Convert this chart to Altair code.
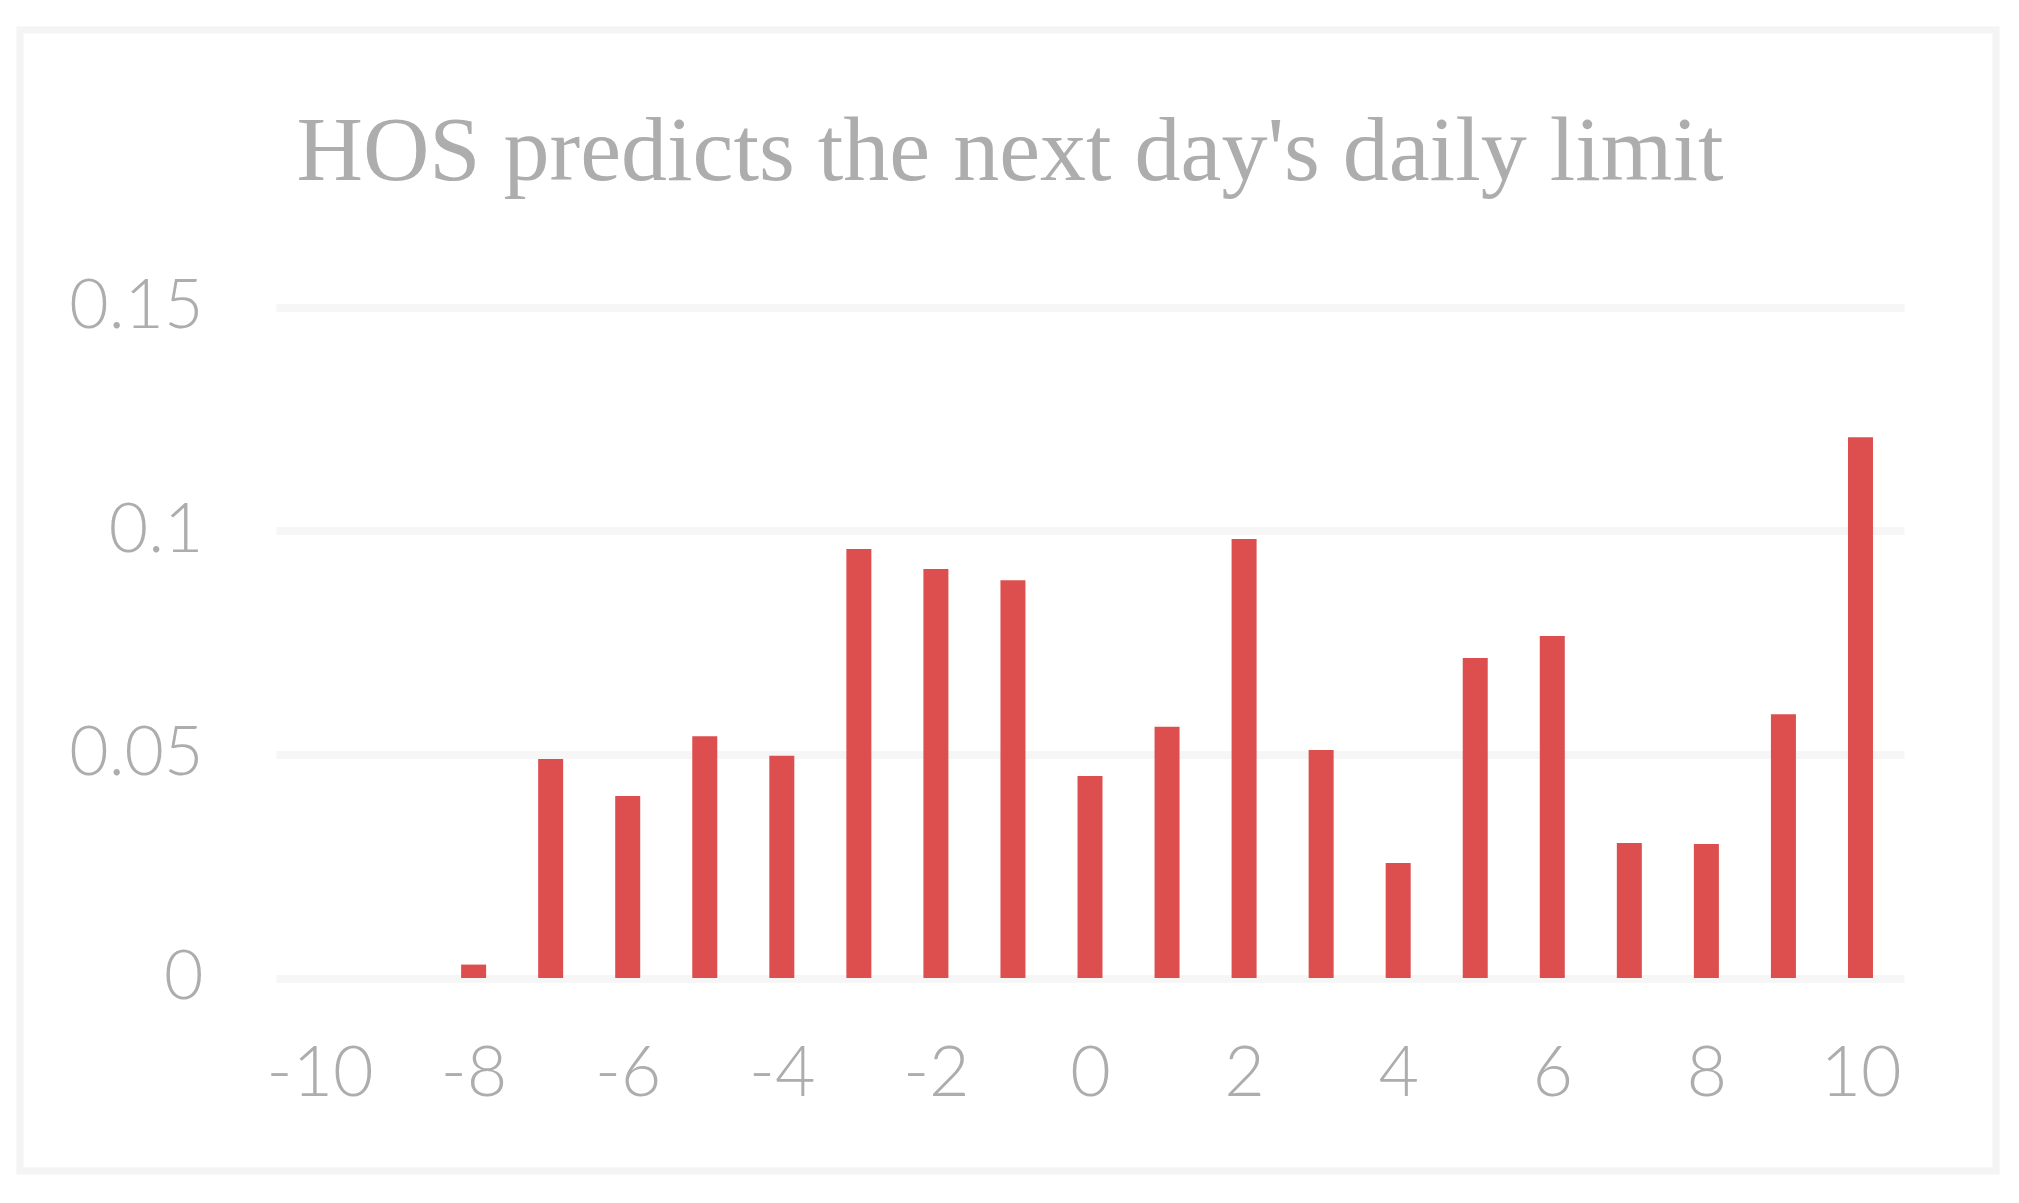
import altair as alt
import pandas as pd

# Data
lags = [-8, -7, -6, -5, -4, -3, -2, -1, 0, 1, 2, 3, 4, 5, 6, 7, 8, 9, 10]
values = [0.003, 0.049, 0.0407, 0.0541, 0.0497, 0.096, 0.0915, 0.089, 0.0452,
          0.0562, 0.0982, 0.051, 0.0257, 0.0716, 0.0765, 0.0302, 0.030, 0.059, 0.121]
x_ticks = [-10, -8, -6, -4, -2, 0, 2, 4, 6, 8, 10]
y_ticks = [0, 0.05, 0.1, 0.15]
title_text = "HOS predicts the next day's daily limit"

df = pd.DataFrame({"lag": lags, "value": values})

TEXT_GRAY = "#adadad"
LABEL_FONT = "Lato, Roboto, sans-serif"

W, H = 1628, 670.5

bars = alt.Chart(df).mark_bar(size=25, color="#dd4f4f").encode(
    x=alt.X("lag:Q",
            scale=alt.Scale(domain=[-10.5, 10.5], nice=False, zero=False),
            axis=alt.Axis(values=x_ticks, title=None, domain=False, ticks=False,
                          grid=False, labelExpr="'' + datum.value",
                          labelPadding=62, labelFontSize=70, labelFont=LABEL_FONT,
                          labelFontWeight=300, labelLimit=500,
                          labelColor=TEXT_GRAY, labelBaseline="top")),
    y=alt.Y("value:Q",
            scale=alt.Scale(domain=[0, 0.15], nice=False),
            axis=alt.Axis(values=y_ticks, title=None, domain=False, ticks=False,
                          tickSize=0, labelExpr="'' + datum.value", grid=True,
                          gridColor="#f6f6f6", gridWidth=8, labelPadding=73,
                          labelFontSize=68, labelFont=LABEL_FONT, labelFontWeight=300,
                          labelLimit=500, labelColor=TEXT_GRAY,
                          labelBaseline="middle")),
)

frame = alt.Chart(alt.Data(values=[{}])).mark_rect(
    fill=None, stroke="#f4f4f4", strokeWidth=7, clip=False
).encode(
    x=alt.value(-256), x2=alt.value(1720),
    y=alt.value(-277.5), y2=alt.value(863.5),
)

chart = alt.layer(frame, bars).properties(
    width=W, height=H,
    title=alt.TitleParams(title_text, font="Liberation Serif", fontSize=92,
                          fontWeight="normal", color=TEXT_GRAY, anchor="middle",
                          dx=-80, offset=-245.5, baseline="alphabetic"),
    autosize=alt.AutoSizeParams(type="none"),
    padding={"left": 268, "top": 299.5, "right": 107, "bottom": 217},
    background="white",
).configure_view(stroke=None)

chart.save("out.html", embed_options={"renderer": "svg", "actions": False})
